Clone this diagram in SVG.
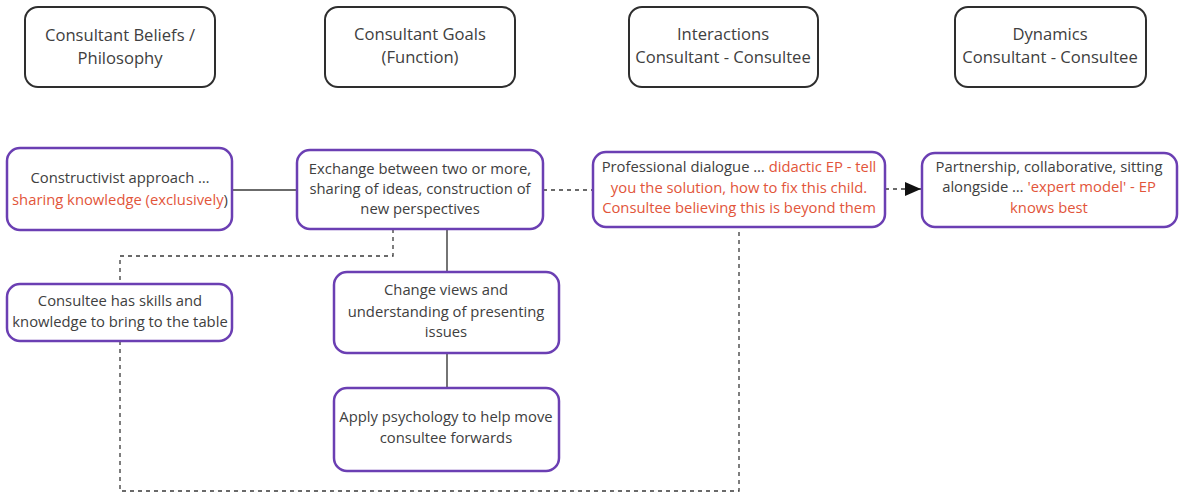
<svg xmlns="http://www.w3.org/2000/svg" width="1179" height="494" viewBox="0 0 1179 494">
<style>
  .hdr { fill: #ffffff; stroke: #2e2e2e; stroke-width: 2; }
  .box { fill: #ffffff; stroke: #6b3fb3; stroke-width: 2.5; }
  .ht { font-family: "Open Sans", "Noto Sans", sans-serif; font-size: 16.6px; fill: #404040; text-anchor: middle; }
  .bt { font-family: "Open Sans", "Noto Sans", sans-serif; font-size: 14.8px; fill: #404040; text-anchor: middle; }
  .red { fill: #e2553a; }
  .solid { fill: none; stroke: #3a3a3a; stroke-width: 1.4; }
  .dash { fill: none; stroke: #3a3a3a; stroke-width: 1.3; stroke-dasharray: 4 4; }
</style>
<defs>
  <marker id="arrow" viewBox="0 0 16 14" refX="16" refY="7" markerWidth="16" markerHeight="14" markerUnits="userSpaceOnUse" orient="auto">
    <path d="M0,0 L16,7 L0,14 Z" fill="#111111"/>
  </marker>
</defs>

<g id="connectors">
  <path class="solid" d="M232,190 L297,190"/>
  <path class="dash" d="M543,190 L593,190"/>
  <path class="dash" d="M885,189 L921,189" marker-end="url(#arrow)"/>
  <path class="solid" d="M447,229 L447,272"/>
  <path class="solid" d="M447,353 L447,388"/>
  <path class="dash" d="M393,229 L393,256 L120,256 L120,284"/>
  <path class="dash" d="M120,341 L120,491 L739,491 L739,227"/>
</g>

<g id="hdr-beliefs">
  <rect class="hdr" x="25" y="7" width="190" height="80" rx="13"/>
  <text class="ht" x="120" y="41">Consultant Beliefs /</text>
  <text class="ht" x="120" y="64">Philosophy</text>
</g>
<g id="hdr-goals">
  <rect class="hdr" x="325" y="7" width="190" height="80" rx="13"/>
  <text class="ht" x="420" y="40">Consultant Goals</text>
  <text class="ht" x="420" y="63">(Function)</text>
</g>
<g id="hdr-interactions">
  <rect class="hdr" x="629" y="7" width="189" height="80" rx="13"/>
  <text class="ht" x="723" y="40">Interactions</text>
  <text class="ht" x="723" y="63">Consultant - Consultee</text>
</g>
<g id="hdr-dynamics">
  <rect class="hdr" x="955" y="7" width="191" height="80" rx="13"/>
  <text class="ht" x="1050" y="40">Dynamics</text>
  <text class="ht" x="1050" y="63">Consultant - Consultee</text>
</g>

<g id="node-constructivist">
  <rect class="box" x="7" y="148" width="225" height="82" rx="13"/>
  <text class="bt" x="120" y="183">Constructivist approach …</text>
  <text class="bt" x="120" y="205"><tspan class="red">sharing knowledge (exclusively</tspan>)</text>
</g>
<g id="node-exchange">
  <rect class="box" x="297" y="150" width="246" height="79" rx="13"/>
  <text class="bt" x="420" y="174">Exchange between two or more,</text>
  <text class="bt" x="420" y="194">sharing of ideas, construction of</text>
  <text class="bt" x="420" y="214">new perspectives</text>
</g>
<g id="node-professional">
  <rect class="box" x="593" y="152" width="292" height="75" rx="13"/>
  <text class="bt" x="739" y="172">Professional dialogue … <tspan class="red">didactic EP - tell</tspan></text>
  <text class="bt red" x="739" y="193">you the solution, how to fix this child.</text>
  <text class="bt red" x="739" y="213">Consultee believing this is beyond them</text>
</g>
<g id="node-partnership">
  <rect class="box" x="922" y="153" width="255" height="74" rx="13"/>
  <text class="bt" x="1049" y="172">Partnership, collaborative, sitting</text>
  <text class="bt" x="1049" y="192">alongside … <tspan class="red">'expert model' - EP</tspan></text>
  <text class="bt red" x="1049" y="213">knows best</text>
</g>
<g id="node-consultee">
  <rect class="box" x="7" y="284" width="225" height="57" rx="13"/>
  <text class="bt" x="120" y="306">Consultee has skills and</text>
  <text class="bt" x="120" y="327">knowledge to bring to the table</text>
</g>
<g id="node-change">
  <rect class="box" x="334" y="272" width="225" height="81" rx="13"/>
  <text class="bt" x="446" y="295">Change views and</text>
  <text class="bt" x="446" y="317">understanding of presenting</text>
  <text class="bt" x="446" y="337">issues</text>
</g>
<g id="node-apply">
  <rect class="box" x="334" y="388" width="225" height="83" rx="13"/>
  <text class="bt" x="446" y="422">Apply psychology to help move</text>
  <text class="bt" x="446" y="443">consultee forwards</text>
</g>
</svg>
